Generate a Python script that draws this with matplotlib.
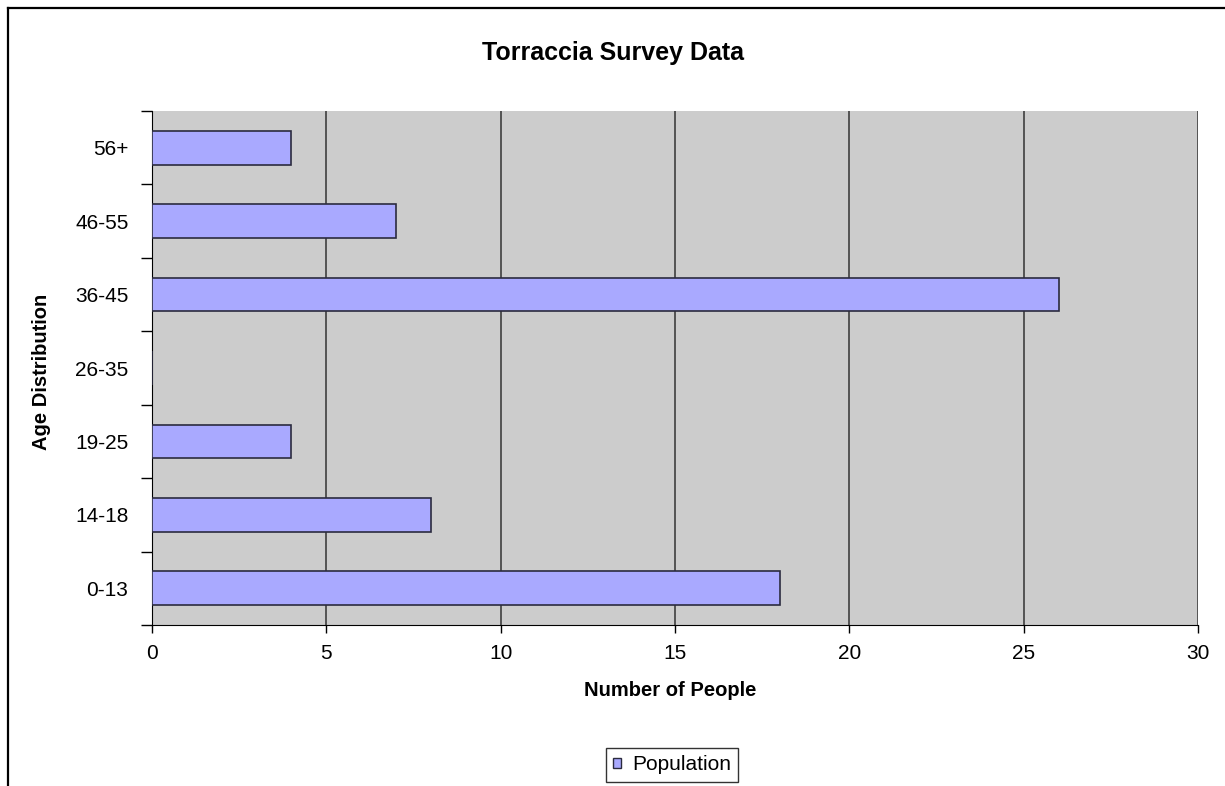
import matplotlib
matplotlib.use("Agg")
from matplotlib import pyplot as plt
from matplotlib.lines import Line2D
from matplotlib.patches import Patch

plt.rcParams['font.family'] = ['Liberation Sans', 'DejaVu Sans']

# Survey counts per age group
age_groups = ["0-13", "14-18", "19-25", "26-35", "36-45", "46-55", "56+"]
population = [18, 8, 4, 0, 26, 7, 4]
x_ticks = [0, 5, 10, 15, 20, 25, 30]

W, H = 1225, 786
fig = plt.figure(figsize=(W / 100, H / 100), dpi=100)
ax = fig.add_axes([152/W, 1 - 625/H, (1198 - 152)/W, (625 - 111)/H])

ax.set_facecolor("#CCCCCC")
pos = list(range(len(age_groups)))
ax.barh(pos, population, height=0.46, color="#A9A9FF", edgecolor="#2B2B3F",
        linewidth=1.2, zorder=3)

ax.set_xlim(0, 30)
ax.set_ylim(-0.5, len(age_groups) - 0.5)
ax.set_xticks(x_ticks)
ax.set_xticklabels([str(t) for t in x_ticks], fontsize=15)
ax.xaxis.grid(True, color="#333333", linewidth=1.1, zorder=1)

# labels sit between the category boundary ticks
ax.set_yticks(pos)
ax.set_yticklabels(age_groups, fontsize=15)
ax.tick_params(axis="y", which="major", length=0, pad=17)
ax.set_yticks([p - 0.5 for p in range(len(age_groups) + 1)], minor=True)
ax.tick_params(axis="y", which="minor", length=8, width=1, direction="out")
ax.tick_params(axis="x", length=6, width=1, direction="out", pad=8)

for side in ["top", "right"]:
    ax.spines[side].set_visible(False)
ax.spines["left"].set_color("black")
ax.spines["bottom"].set_color("black")

fig.text(670/W, 1 - 690/H, "Number of People", ha="center", va="center",
         fontsize=14.5, fontweight="bold")
fig.text(42/W, 1 - 372/H, "Age Distribution", ha="center", va="center",
         rotation=90, fontsize=14.5, fontweight="bold")
fig.text(0.5, 1 - 53/H, "Torraccia Survey Data", ha="center", va="center",
         fontsize=18, fontweight="bold")

handle = Patch(facecolor="#A9A9FF", edgecolor="#2B2B3F", linewidth=1)
leg = fig.legend([handle], ["Population"], loc="center",
                 bbox_to_anchor=(672/W, 1 - 765/H), fontsize=15,
                 frameon=True, fancybox=False, handlelength=0.4, handleheight=0.4,
                 handletextpad=0.5, borderpad=0.35, borderaxespad=0)
leg.get_frame().set_edgecolor("black")
leg.get_frame().set_linewidth(1)

# outer chart border (left and top edges)
fig.add_artist(Line2D([8/W, 8/W], [0, 1 - 8/H], color="black", linewidth=1.6))
fig.add_artist(Line2D([8/W, 1], [1 - 8/H, 1 - 8/H], color="black", linewidth=1.6))

fig.savefig("out.png", dpi=100)
